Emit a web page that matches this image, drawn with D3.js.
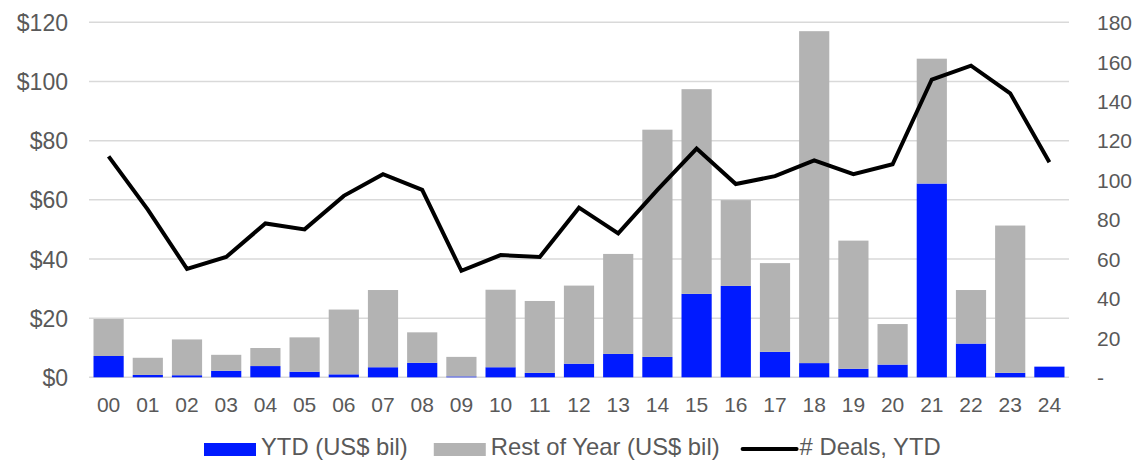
<!DOCTYPE html>
<html>
<head>
<meta charset="utf-8">
<script src="https://cdn.jsdelivr.net/npm/d3@7"></script>
<style>
  html, body { margin: 0; padding: 0; background: #fff; }
  svg { display: block; font-family: "Liberation Sans", Arial, sans-serif; }
</style>
</head>
<body>
<div class="chart"></div>
<script>
const years = ['00','01','02','03','04','05','06','07','08','09','10','11','12','13','14','15','16','17','18','19','20','21','22','23','24']
const ytd = [7.2, 0.8, 0.7, 2.2, 3.8, 1.9, 1.0, 3.4, 4.9, 0.3, 3.4, 1.5, 4.6, 7.9, 6.9, 28.2, 30.9, 8.6, 4.8, 2.9, 4.3, 65.5, 11.4, 1.5, 3.6]
const restOfYear = [12.5, 5.8, 12.1, 5.4, 6.1, 11.6, 21.9, 26.1, 10.3, 6.6, 26.2, 24.3, 26.4, 33.8, 76.8, 69.2, 29.0, 30.0, 112.2, 43.3, 13.7, 42.2, 18.1, 49.8, 0]
const deals = [112, 85, 55, 61, 78, 75, 92, 103, 95, 54, 62, 61, 86, 73, 95, 116, 98, 102, 110, 103, 108, 151, 158, 144, 109]
const leftTicks = [0, 20, 40, 60, 80, 100, 120]
const rightTicks = [0, 20, 40, 60, 80, 100, 120, 140, 160, 180]
const legendLabels = ['YTD (US$ bil)', 'Rest of Year (US$ bil)', '# Deals, YTD']

;(function init() {
  const width = 1138
  const height = 460
  const left = 89
  const right = 1069
  const top = 22.3
  const bottom = 377.3

  const blue = '#001aff'
  const gray = '#b3b3b3'
  const textColor = '#595959'

  const rows = years.map((y, i) => ({ year: y, ytd: ytd[i], rest: restOfYear[i], deals: deals[i] }))

  const x = d3.scaleBand().domain(years).range([left, right]).paddingInner(0.23).paddingOuter(0.115)
  const y = d3.scaleLinear().domain([0, 120]).range([bottom, top])
  const y2 = d3.scaleLinear().domain([0, 180]).range([bottom, top])

  const svg = d3
    .select('.chart')
    .append('svg')
    .attr('width', width)
    .attr('height', height)

  // gridlines
  svg
    .append('g')
    .selectAll('line')
    .data(leftTicks)
    .join('line')
    .attr('x1', left)
    .attr('x2', right)
    .attr('y1', (d) => y(d))
    .attr('y2', (d) => y(d))
    .attr('stroke', '#d9d9d9')
    .attr('stroke-width', 1.5)

  // left axis
  const yAxis = d3.axisLeft(y).tickValues(leftTicks).tickSize(0).tickPadding(0).tickFormat((d) => '$' + d)
  const gy = svg.append('g').attr('transform', 'translate(68,0)').call(yAxis)
  gy.select('.domain').remove()
  gy.selectAll('text').attr('fill', textColor).style('font-size', '23px').attr('dy', '0.35em')

  // right axis
  const y2Axis = d3.axisRight(y2).tickValues(rightTicks).tickSize(0).tickPadding(0).tickFormat((d) => (d === 0 ? '-' : d))
  const gy2 = svg.append('g').attr('transform', 'translate(1097,0)').call(y2Axis)
  gy2.select('.domain').remove()
  gy2.selectAll('text').attr('fill', textColor).style('font-size', '21px').attr('dy', '0.35em')

  // x axis
  const xAxis = d3.axisBottom(x).tickSize(0).tickPadding(0)
  const gx = svg.append('g').attr('transform', `translate(0,${bottom + 20})`).call(xAxis)
  gx.select('.domain').remove()
  gx.selectAll('text').attr('fill', textColor).style('font-size', '21px').attr('dy', '0.71em')

  // stacked bars
  const stack = d3.stack().keys(['ytd', 'rest'])(rows)
  const colors = { ytd: blue, rest: gray }

  svg
    .append('g')
    .selectAll('g')
    .data(stack)
    .join('g')
    .attr('fill', (s) => colors[s.key])
    .selectAll('rect')
    .data((s) => s.filter((d) => d[1] - d[0] > 0))
    .join('rect')
    .attr('x', (d) => x(d.data.year))
    .attr('width', x.bandwidth())
    .attr('y', (d) => y(d[1]))
    .attr('height', (d) => y(d[0]) - y(d[1]))

  // deals line
  const line = d3
    .line()
    .x((d) => x(d.year) + x.bandwidth() / 2)
    .y((d) => y2(d.deals))

  svg
    .append('path')
    .datum(rows)
    .attr('fill', 'none')
    .attr('stroke', '#000')
    .attr('stroke-width', 4)
    .attr('stroke-linejoin', 'miter')
    .attr('d', line)

  // legend
  const legend = svg.append('g')
  const gaps = [26, 22]
  let cx = 204
  legendLabels.forEach((label, i) => {
    if (i < 2) {
      legend
        .append('rect')
        .attr('x', cx)
        .attr('y', 443)
        .attr('width', 52)
        .attr('height', 13)
        .attr('fill', i === 0 ? blue : gray)
    } else {
      legend
        .append('line')
        .attr('x1', cx + 1)
        .attr('x2', cx + 55)
        .attr('y1', 449)
        .attr('y2', 449)
        .attr('stroke', '#000')
        .attr('stroke-width', 4)
        .attr('stroke-linecap', 'round')
    }
    const tx = cx + (i < 2 ? 57 : 58)
    const t = legend
      .append('text')
      .attr('x', tx)
      .attr('y', 454.8)
      .attr('fill', textColor)
      .style('font-size', '23.8px')
      .text(label)
    cx = tx + t.node().getComputedTextLength() + (gaps[i] || 0)
  })
})()
</script>
</body>
</html>
